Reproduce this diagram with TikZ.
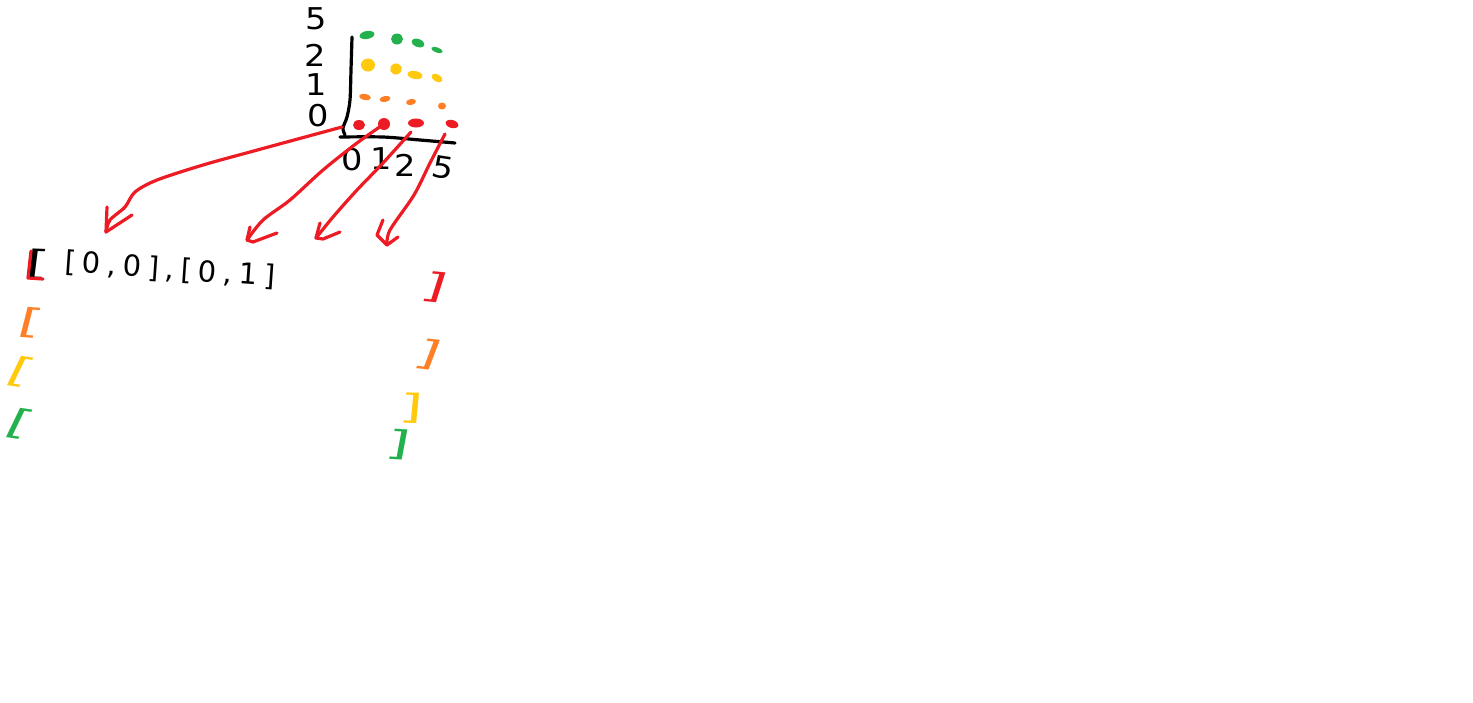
\documentclass[tikz,border=0pt]{standalone}
\usepackage{fontspec}
\usetikzlibrary{shapes.geometric}
\setmainfont{DejaVu Sans}
\newfontfamily\wide[LetterSpace=22]{DejaVu Sans}
\definecolor{sred}{HTML}{ED1C24}
\definecolor{sorange}{HTML}{FF7F27}
\definecolor{syellow}{HTML}{FFC90E}
\definecolor{sgreen}{HTML}{22B14C}
\tikzset{
  pen/.style={line width=3.2pt,line cap=round,line join=round},
  arrowline/.style={pen,sred},
  digit/.style={inner sep=0pt,xscale=1.12,font=\fontsize{30}{30}\selectfont},
  brack/.style={inner sep=0pt,xscale=1.8,font=\fontsize{34}{34}\selectfont},
  dotmark/.style={ellipse,inner sep=0pt,draw=none}
}
\begin{document}
\begin{tikzpicture}[x=1pt,y=-1pt]
\useasboundingbox[fill=white] (0,0) rectangle (1473,702);
% axes
\coordinate (ytop) at (352,37);
\coordinate (xleft) at (340,137);
\coordinate (xright) at (455,143);
\draw[pen,black] plot[smooth,tension=.5] coordinates {(ytop) (351,70) (350,100) (347,117) (343,128) (345,135)};
\draw[pen,black] plot[smooth,tension=.5] coordinates {(xleft) (383,137) (420,140) (xright)};
% dots
\foreach \n/\x/\y/\w/\h/\r in {g1/367/35/15/8/10,g2/397/39/12/11/0,g3/418/43/13/8/-20,g4/437/50/12/5/-20}
  \node[dotmark,fill=sgreen,minimum width=\w pt,minimum height=\h pt,rotate=\r] (\n) at (\x,\y) {};
\foreach \n/\x/\y/\w/\h/\r in {y1/368/65/14/13/0,y2/396/69/12/11/20,y3/415/75/15/8/-10,y4/437/78/12/7/-30}
  \node[dotmark,fill=syellow,minimum width=\w pt,minimum height=\h pt,rotate=\r] (\n) at (\x,\y) {};
\foreach \n/\x/\y/\w/\h/\r in {o1/365/97/12/6/-10,o2/385/99/11/6/10,o3/411/102/10/6/10,o4/442/106/8/7/0}
  \node[dotmark,fill=sorange,minimum width=\w pt,minimum height=\h pt,rotate=\r] (\n) at (\x,\y) {};
\foreach \n/\x/\y/\w/\h/\r in {r1/359/125/12/10/0,r2/384/124/12/12/0,r3/416/123/16/9/0,r4/452/124/13/8/-15}
  \node[dotmark,fill=sred,minimum width=\w pt,minimum height=\h pt,rotate=\r] (\n) at (\x,\y) {};
% digits
\node[digit] (l5) at (316,19) {5};
\node[digit] (l2) at (315,55) {2};
\node[digit] (l1) at (316,85) {1};
\node[digit] (l0) at (318,116) {0};
\node[digit] (b0) at (352,160) {0};
\node[digit] (b1) at (381,159) {1};
\node[digit] (b2) at (405,165) {2};
\node[digit,rotate=-10] (b5) at (443,168) {5};
% text
\node[inner sep=0pt,rotate=-4,font=\fontsize{29}{29}\selectfont\wide] (list) at (170,270) {[0,0],[0,1]};
\node[brack,rotate=-4,black] (outer) at (38,264) {[};
\draw[pen,sred] (31,251) -- (28,278) -- (43,279);
% colored brackets
\node[brack,rotate=-8,sorange] (bo) at (31,323) {[};
\node[brack,rotate=-15,syellow] (by) at (21,372) {[};
\node[brack,rotate=-15,sgreen] (bg) at (20,424) {[};
\node[brack,rotate=-10,sred] (cr) at (435,287) {]};
\node[brack,rotate=-12,sorange] (co) at (428,354) {]};
\node[brack,rotate=-3,syellow] (cy) at (411,408) {]};
\node[brack,rotate=-6,sgreen] (cg) at (398,445) {]};
% arrows
\coordinate (a1s) at (342,127); \coordinate (a1e) at (106,232);
\coordinate (a2e) at (247,240);
\coordinate (a3s) at (411,132); \coordinate (a3e) at (316,238);
\coordinate (a4s) at (445,134); \coordinate (a4e) at (387,245);
\draw[arrowline] plot[smooth,tension=.5] coordinates {(a1s) (250,152) (203,165) (157,180) (135,192) (125,207) (110,220) (a1e)};
\draw[arrowline] (107,207) -- (a1e) -- (132,215);
\draw[arrowline] plot[smooth,tension=.5] coordinates {(r2) (357,143) (323,170) (290,200) (263,220) (a2e)};
\draw[arrowline] (250,227) -- (a2e) -- (253,242) -- (277,233);
\draw[arrowline] plot[smooth,tension=.5] coordinates {(a3s) (383,163) (357,190) (333,217) (a3e)};
\draw[arrowline] (320,223) -- (a3e) -- (323,239) -- (340,232);
\draw[arrowline] plot[smooth,tension=.5] coordinates {(a4s) (430,163) (414,195) (390,230) (a4e)};
\draw[arrowline] (383,220) -- (377,235) -- (a4e) -- (398,237);
\end{tikzpicture}
\end{document}
